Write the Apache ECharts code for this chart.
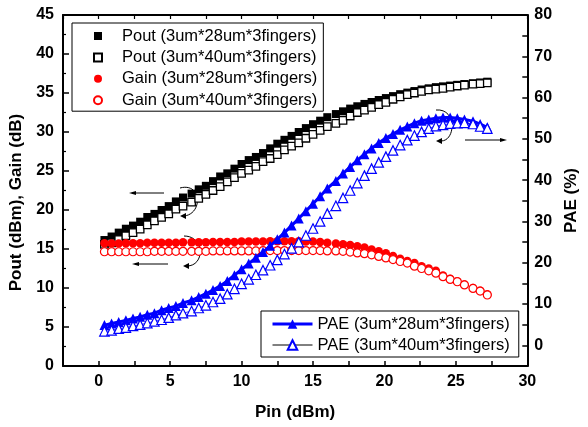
<!DOCTYPE html>
<html>
<head>
<meta charset="utf-8">
<script src="https://cdn.jsdelivr.net/npm/echarts@6/dist/echarts.min.js"></script>
<style>
    html, body { margin: 0; padding: 0; background: #fff; }
    #chart { width: 588px; height: 427px; }
</style>
</head>
<body>
<div id="chart"></div>
<script>
// Pin (dBm) sweep
var pin = [0.4, 0.9, 1.4, 1.9, 2.4, 2.9, 3.4, 3.9, 4.4, 4.9, 5.4, 5.9,
    6.5, 7.0, 7.5, 8.0, 8.5, 9.0, 9.5, 10.0, 10.5, 11.0, 11.5, 12.0, 12.5, 13.0, 13.5, 14.0, 14.5, 15.0, 15.5, 16.0,
    16.6, 17.1, 17.6, 18.1, 18.6, 19.1, 19.6, 20.1, 20.6, 21.1, 21.6, 22.1, 22.6, 23.1, 23.6, 24.1, 24.6, 25.1, 25.6,
    26.2, 26.7, 27.2];

// Pout (dBm)
var poutA = [16.15, 16.6, 17.1, 17.6, 18.0, 18.5, 19.1, 19.5, 20.0, 20.5,
    21.1, 21.6, 22.1, 22.65, 23.1, 23.7, 24.3, 24.7, 25.3, 25.9,
    26.4, 26.8, 27.3, 27.9, 28.5, 29.0, 29.5, 30.0, 30.5, 31.0,
    31.45, 31.9, 32.3, 32.65, 33.0, 33.3, 33.6, 33.85, 34.1, 34.35,
    34.6, 34.85, 35.05, 35.25, 35.45, 35.6, 35.75, 35.85, 35.95, 36.05,
    36.15, 36.25, 36.35, 36.45];
var poutB = [15.6, 15.8, 16.2, 16.7, 17.1, 17.55, 18.1, 18.6, 19.05, 19.5,
    20.1, 20.5, 21.0, 21.5, 22.0, 22.5, 23.0, 23.6, 24.15, 24.7,
    25.1, 25.6, 26.2, 26.6, 27.1, 27.7, 28.2, 28.6, 29.2, 29.7,
    30.2, 30.7, 31.1, 31.5, 32.05, 32.5, 32.8, 33.15, 33.5, 33.8,
    34.2, 34.5, 34.8, 35.0, 35.2, 35.4, 35.5, 35.6, 35.75, 35.9,
    36.0, 36.15, 36.2, 36.3];

// Gain (dB)
var gainA = [15.75, 15.7, 15.7, 15.75, 15.75, 15.75, 15.8, 15.8, 15.8, 15.8,
    15.8, 15.85, 15.85, 15.85, 15.85, 15.9, 15.9, 15.9, 15.9, 15.95,
    15.95, 15.95, 15.95, 16.0, 16.0, 16.0, 16.0, 16.0, 15.95, 15.95,
    15.9, 15.8, 15.7, 15.6, 15.5, 15.35, 15.2, 14.95, 14.7, 14.45,
    14.1, 13.75, 13.45, 13.2, 12.8, 12.5, 12.2, 11.6, 11.2, 10.85,
    10.45, 10.0, 9.65, 9.2];
var gainB = [14.65, 14.65, 14.65, 14.65, 14.65, 14.65, 14.65, 14.7, 14.7, 14.7,
    14.7, 14.7, 14.7, 14.7, 14.7, 14.75, 14.75, 14.75, 14.75, 14.75,
    14.75, 14.75, 14.8, 14.8, 14.8, 14.8, 14.8, 14.8, 14.8, 14.8,
    14.8, 14.75, 14.75, 14.7, 14.6, 14.5, 14.4, 14.25, 14.05, 13.85,
    13.65, 13.4, 13.2, 12.8, 12.5, 12.2, 11.9, 11.45, 11.1, 10.8,
    10.4, 9.95, 9.6, 9.1];

// PAE (%)
var paeA = [4.9, 5.3, 5.65, 6.05, 6.5, 6.9, 7.4, 7.8, 8.5, 9.05,
    9.5, 10.25, 10.9, 11.7, 12.5, 13.4, 14.4, 15.6, 17.0, 18.4,
    19.8, 21.2, 22.6, 24.1, 25.7, 27.3, 29.0, 30.7, 32.5, 34.3,
    36.1, 38.0, 39.8, 41.6, 43.2, 44.8, 46.3, 47.7, 49.0, 50.2,
    51.2, 52.2, 53.0, 53.8, 54.4, 54.7, 55.0, 55.2, 55.2, 55.0,
    54.7, 54.3, 53.6, 52.8];
var paeB = [3.4, 3.65, 4.05, 4.3, 4.7, 5.0, 5.4, 5.8, 6.2, 6.7,
    7.3, 7.8, 8.3, 9.05, 9.7, 10.5, 11.3, 12.4, 13.7, 14.9,
    16.0, 17.1, 18.2, 19.4, 20.7, 22.1, 23.5, 25.0, 26.6, 28.3,
    30.0, 31.9, 33.8, 35.7, 37.5, 39.3, 41.1, 42.8, 44.3, 45.7,
    47.2, 48.5, 49.7, 50.8, 51.7, 52.5, 53.1, 53.4, 53.7, 53.8,
    53.9, 53.6, 53.0, 52.5];

var names = [
    'Pout (3um*28um*3fingers)', 'Pout (3um*40um*3fingers)',
    'Gain (3um*28um*3fingers)', 'Gain (3um*40um*3fingers)',
    'PAE (3um*28um*3fingers)', 'PAE (3um*40um*3fingers)'
];

// tick labels
var xLabels = [0, 5, 10, 15, 20, 25, 30];
var leftLabels = [0, 5, 10, 15, 20, 25, 30, 35, 40, 45];
var rightLabels = [0, 10, 20, 30, 40, 50, 60, 70, 80];

var FONT = '"Liberation Sans", Arial, sans-serif';

function pairs(ys) {
    return pin.map(function (x, i) { return [x, ys[i]]; });
}

var myChart = echarts.init(document.getElementById('chart'));

var tickLabel = { fontSize: 16, fontWeight: 'bold', color: '#000', fontFamily: FONT };
var axisLine = { show: true, onZero: false, lineStyle: { color: '#000', width: 2 } };

var option = {
    animation: false,
    backgroundColor: '#fff',
    grid: { left: 63, top: 15, right: 53, bottom: 61 },
    xAxis: [{
        type: 'value', position: 'bottom',
        min: -2.5, max: 30, interval: 2.5,
        name: 'Pin (dBm)', nameLocation: 'middle', nameGap: 38,
        nameTextStyle: { fontSize: 17, fontWeight: 'bold', color: '#000', fontFamily: FONT },
        axisLine: axisLine,
        axisTick: { inside: true, length: 5, lineStyle: { color: '#000', width: 1.5 } },
        axisLabel: Object.assign({
            margin: 8,
            formatter: function (v) { return xLabels.indexOf(v) >= 0 ? String(v) : ''; }
        }, tickLabel),
        splitLine: { show: false }
    }, {
        type: 'value', position: 'top',
        min: -2.5, max: 30, interval: 2.5,
        axisLine: axisLine,
        axisTick: { inside: true, length: 4, lineStyle: { color: '#000', width: 1.2 } },
        axisLabel: { show: false },
        splitLine: { show: false }
    }],
    yAxis: [{
        type: 'value', position: 'left',
        min: 0, max: 45, interval: 5,
        name: 'Pout (dBm), Gain (dB)', nameLocation: 'middle', nameGap: 36, nameRotate: 90,
        nameTextStyle: { fontSize: 17, fontWeight: 'bold', color: '#000', fontFamily: FONT, padding: [0, 24, 0, 0] },
        axisLine: axisLine,
        axisTick: { inside: true, length: 6, lineStyle: { color: '#000', width: 1.5 } },
        minorTick: { show: true, splitNumber: 2, length: 3, lineStyle: { color: '#000', width: 1.2 } },
        axisLabel: Object.assign({
            margin: 9,
            formatter: function (v) { return leftLabels.indexOf(v) >= 0 ? String(v) : ''; }
        }, tickLabel),
        splitLine: { show: false }
    }, {
        type: 'value', position: 'right',
        min: -5, max: 80, interval: 5,
        name: 'PAE (%)', nameLocation: 'middle', nameGap: 34, nameRotate: 90,
        nameTextStyle: { fontSize: 17, fontWeight: 'bold', color: '#000', fontFamily: FONT, padding: [0, 20, 0, 0] },
        axisLine: axisLine,
        axisTick: { inside: true, length: 5, lineStyle: { color: '#000', width: 1.5 } },
        axisLabel: Object.assign({
            margin: 7,
            formatter: function (v) { return rightLabels.indexOf(v) >= 0 ? String(v) : ''; }
        }, tickLabel),
        splitLine: { show: false }
    }],
    legend: [{
        data: names.slice(0, 4),
        orient: 'vertical', left: 72, top: 23,
        itemWidth: 8, itemHeight: 8, itemGap: 3.4,
        padding: [4, 6, 2, 21],
        borderColor: '#000', borderWidth: 1, backgroundColor: '#fff',
        selectedMode: false,
        textStyle: { fontSize: 16.5, lineHeight: 18, color: '#000', fontFamily: FONT, padding: [0, 0, 0, 15] }
    }, {
        data: [
            { name: names[4], lineStyle: { color: '#0000ff', width: 3 } },
            { name: names[5], lineStyle: { color: '#000', width: 1 } }
        ],
        orient: 'vertical', left: 261, top: 311,
        itemWidth: 40, itemHeight: 12, itemGap: 3,
        padding: [4, 9, 3, 10],
        borderColor: '#000', borderWidth: 1, backgroundColor: '#fff',
        selectedMode: false,
        textStyle: { fontSize: 16.5, lineHeight: 18, color: '#000', fontFamily: FONT }
    }],
    series: [{
        name: names[0], type: 'scatter', data: pairs(poutA),
        symbol: 'rect', symbolSize: 8,
        itemStyle: { color: '#000', opacity: 1 }
    }, {
        name: names[1], type: 'scatter', data: pairs(poutB),
        symbol: 'rect', symbolSize: 7.5,
        itemStyle: { color: '#fff', borderColor: '#000', borderWidth: 1.3, opacity: 1 }
    }, {
        name: names[2], type: 'scatter', data: pairs(gainA),
        symbol: 'circle', symbolSize: 8.5,
        itemStyle: { color: '#ff0000', opacity: 1 }
    }, {
        name: names[3], type: 'scatter', data: pairs(gainB),
        symbol: 'circle', symbolSize: 8,
        itemStyle: { color: '#fff', borderColor: '#ff0000', borderWidth: 1.2, opacity: 1 }
    }, {
        name: names[4], type: 'line', yAxisIndex: 1, data: pairs(paeA),
        symbol: 'triangle', symbolSize: 10, showAllSymbol: true,
        lineStyle: { color: '#0000ff', width: 3 },
        itemStyle: { color: '#0000ff' }
    }, {
        name: names[5], type: 'line', yAxisIndex: 1, data: pairs(paeB),
        symbol: 'triangle', symbolSize: 9.5, showAllSymbol: true,
        lineStyle: { color: '#4040ff', width: 1 },
        itemStyle: { color: '#fff', borderColor: '#0000ff', borderWidth: 1.2 }
    }],
    // little arrows pointing each curve group to its axis
    graphic: [
        { type: 'line', silent: true, shape: { x1: 164, y1: 193, x2: 132, y2: 193 }, style: { stroke: '#000', lineWidth: 1 } },
        { type: 'polygon', silent: true, shape: { points: [[129, 193], [136, 191], [136, 195]] }, style: { fill: '#000' } },
        { type: 'line', silent: true, shape: { x1: 168, y1: 264, x2: 135, y2: 264 }, style: { stroke: '#000', lineWidth: 1 } },
        { type: 'polygon', silent: true, shape: { points: [[132, 264], [139, 262], [139, 266]] }, style: { fill: '#000' } },
        { type: 'line', silent: true, shape: { x1: 465, y1: 140, x2: 503, y2: 140 }, style: { stroke: '#000', lineWidth: 1 } },
        { type: 'polygon', silent: true, shape: { points: [[507, 140], [500, 138], [500, 142]] }, style: { fill: '#000' } },
        { type: 'bezierCurve', silent: true, shape: { x1: 180, y1: 188, cpx1: 202, cpy1: 182, cpx2: 203, cpy2: 214, x2: 184, y2: 216 }, style: { stroke: '#000', lineWidth: 1, fill: null } },
        { type: 'polygon', silent: true, shape: { points: [[180, 216], [186, 213], [186, 219]] }, style: { fill: '#000' } },
        { type: 'bezierCurve', silent: true, shape: { x1: 184, y1: 236, cpx1: 205, cpy1: 236, cpx2: 205, cpy2: 266, x2: 187, y2: 266 }, style: { stroke: '#000', lineWidth: 1, fill: null } },
        { type: 'polygon', silent: true, shape: { points: [[183, 266], [189, 263], [189, 269]] }, style: { fill: '#000' } },
        { type: 'bezierCurve', silent: true, shape: { x1: 436, y1: 110, cpx1: 457, cpy1: 108, cpx2: 456, cpy2: 141, x2: 441, y2: 141 }, style: { stroke: '#000', lineWidth: 1, fill: null } },
        { type: 'polygon', silent: true, shape: { points: [[436, 141], [442, 138], [442, 144]] }, style: { fill: '#000' } }
    ]
};

myChart.setOption(option);
</script>
</body>
</html>
